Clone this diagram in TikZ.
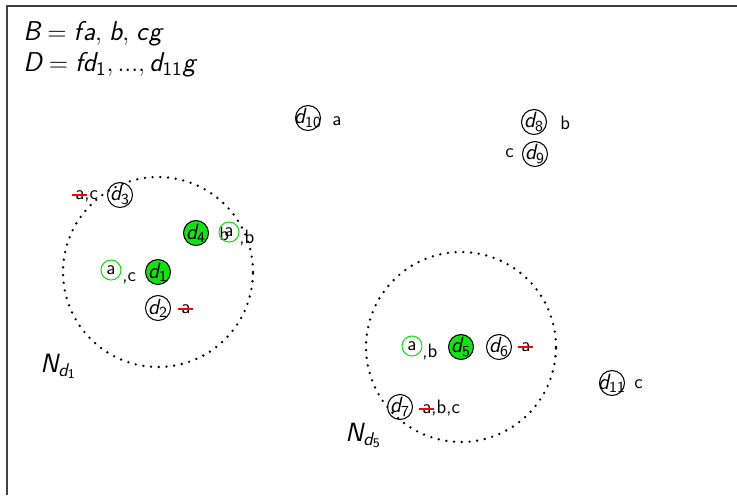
\documentclass[tikz,border=0pt]{standalone}
\renewcommand{\familydefault}{\sfdefault}
\usepackage{amsmath}
\usepackage{tikz}
\usetikzlibrary{positioning}
\definecolor{coregreen}{RGB}{20,225,20}
\newcommand{\dlab}[1]{\makebox[0pt]{$\textit{d}_{\textsf{#1}}$}}
\newcommand{\gone}{a\makebox[0pt][r]{\textcolor{red}{\rule[0.38ex]{0.8em}{1pt}}\hspace{-0.14em}}}

\begin{document}
\begin{tikzpicture}[x=0.02cm,y=-0.02cm,
doc/.style={circle,draw,line width=0.6pt,inner sep=0pt,minimum size=0.5cm,font=\fontsize{12.5}{14}\selectfont},
core/.style={doc,fill=coregreen},
hit/.style={circle,draw=coregreen,line width=0.6pt,inner sep=0pt,minimum size=0.4cm,font=\fontsize{11}{13}\selectfont},
tag/.style={inner sep=0pt,anchor=base west,font=\fontsize{11}{13}\selectfont},
title/.style={inner sep=0pt,anchor=base west,font=\fontsize{15.5}{18}\selectfont},
hood/.style={inner sep=0pt,anchor=base west,font=\fontsize{15}{18}\selectfont},
nbhd/.style={line width=1.5pt,line cap=round,dash pattern=on 0pt off 4.4pt}]
\useasboundingbox (0,0) rectangle (737,495);
\draw[line width=0.9pt,black!75] (7,495) -- (7,6) -- (737,6);

\node[title] (setb) at (23,40) {$\textit{B} = \textit{f}\mkern1mu\textit{a},\mkern2mu\textit{b},\mkern2mu\textit{c}\mkern1mu\textit{g}$};
\node[title] (setd) at (23,71) {$\textit{D} = \textit{fd}_{\textsf{1}}, ..., \textit{d}_{\textsf{11}}\textit{g}$};

\node[doc] (d10) at (308,118) {\dlab{10}};
\node[tag] (d10t) at (332,125) {a};
\node[doc] (d8) at (534,122) {\dlab{8}};
\node[tag] (d8t) at (560,129) {b};
\node[doc] (d9) at (535,154) {\dlab{9}};
\node[tag] (d9t) at (505,157) {c};

\node[core] (d1) at (158,272) {\dlab{1}};
\draw[nbhd] (d1) circle[radius=1.9cm];
\node[doc] (d2) at (158,308) {\dlab{2}};
\node[tag] (d2t) at (181,313) {\gone};
\node[doc] (d3) at (120,195) {\dlab{3}};
\node[tag] (d3t) at (75,199) {\gone,c};
\node[core] (d4) at (196,233) {\dlab{4}};
\node[tag] (d4b) at (219,240) {b};
\node[hit] (d4a) at (229,232) {a};
\node[tag] (d4t) at (239,243) {,b};
\node[hit] (d1a) at (111,270) {a};
\node[tag] (d1t) at (122,281) {,c};
\node[hood] (n1) at (40,372) {$\textit{N}_{\textit{d}_{\textsf{1}}}$};

\node[core] (d5) at (461,347) {\dlab{5}};
\draw[nbhd] (d5) circle[radius=1.9cm];
\node[hit] (d5a) at (412,346) {a};
\node[tag] (d5t) at (422,357) {,b};
\node[doc] (d6) at (499,347) {\dlab{6}};
\node[tag] (d6t) at (521,351) {\gone};
\node[doc] (d7) at (400,407) {\dlab{7}};
\node[tag] (d7t) at (422,413) {\gone,b,c};
\node[hood] (n5) at (345,441) {$\textit{N}_{\textit{d}_{\textsf{5}}}$};

\node[doc] (d11) at (612,383) {\dlab{11}};
\node[tag] (d11t) at (634,388) {c};
\end{tikzpicture}
\end{document}
